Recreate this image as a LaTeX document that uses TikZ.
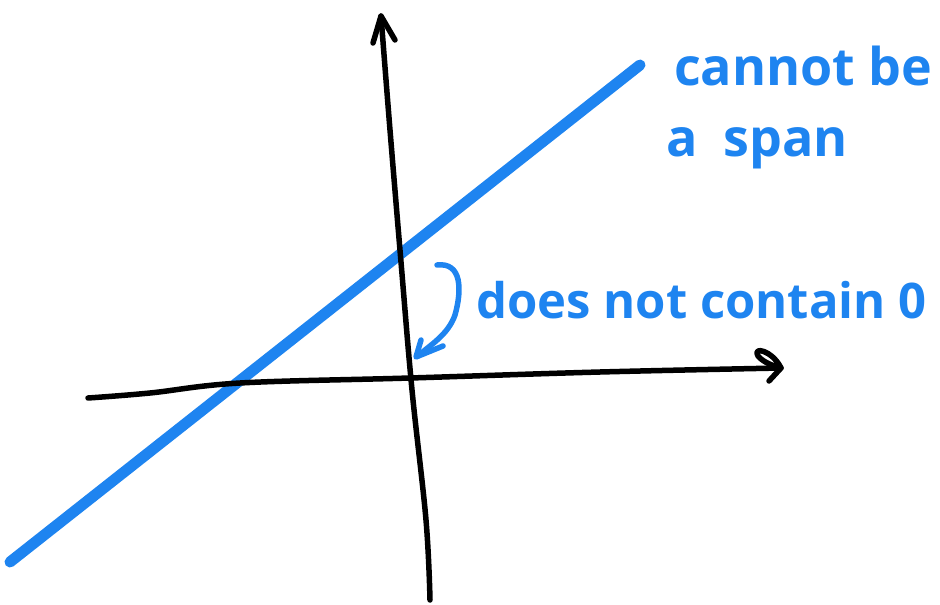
\documentclass[tikz,border=0pt]{standalone}
\usepackage{fontspec}
\setmainfont{Open Sans}
\definecolor{penblue}{RGB}{30,132,240}
\begin{document}
\begin{tikzpicture}[x=1pt,y=-1pt,
  axis/.style={line width=5.5pt,black,line cap=round,line join=round},
  blueline/.style={line width=11pt,penblue,line cap=round},
  bluepen/.style={line width=5.5pt,penblue,line cap=round,line join=round},
  hand/.style={penblue,inner sep=0pt,anchor=west,font=\bfseries}]
\useasboundingbox (0,0) rectangle (940,605);
% coordinates
\coordinate (vbot) at (430,600);
\coordinate (vtop) at (381,16);
\coordinate (hleft) at (88,398);
\coordinate (hright) at (781,368);
\coordinate (lstart) at (10,562);
\coordinate (lend) at (640,65);
% blue line
\draw[blueline] (lstart) -- (lend);
% vertical axis
\draw[axis] plot[smooth,tension=0.6] coordinates {(430,600) (426,520) (412,390) (401,262) (390,130) (381,16)};
\draw[axis] (373,43) -- (vtop) -- (395,40);
% horizontal axis
\draw[axis] plot[smooth,tension=0.6] coordinates {(88,398) (150,393) (240,383) (410,378) (600,372) (781,368)};
\draw[axis] (hright) .. controls (772,350) and (752,346) .. (758,356) .. controls (764,363) and (774,366) .. (hright) -- (769,381);
% labels
\node[hand,font=\bfseries\fontsize{52}{60}\selectfont] (cannot) at (674,66) {cannot be};
\node[hand,font=\bfseries\fontsize{52}{60}\selectfont] (span) at (666,148) {a\,\,\,span};
\node[hand,font=\bfseries\fontsize{49}{56}\selectfont] (contain) at (476,300) {does not contain 0};
% bracket and arrow
\draw[bluepen] (437,265) .. controls (462,262) and (462,290) .. (455,315)
  .. controls (448,335) and (430,345) .. (418,356);
\coordinate (tip) at (416,357);
\draw[bluepen] (421,340) -- (tip) -- (443,346);
\end{tikzpicture}
\end{document}
